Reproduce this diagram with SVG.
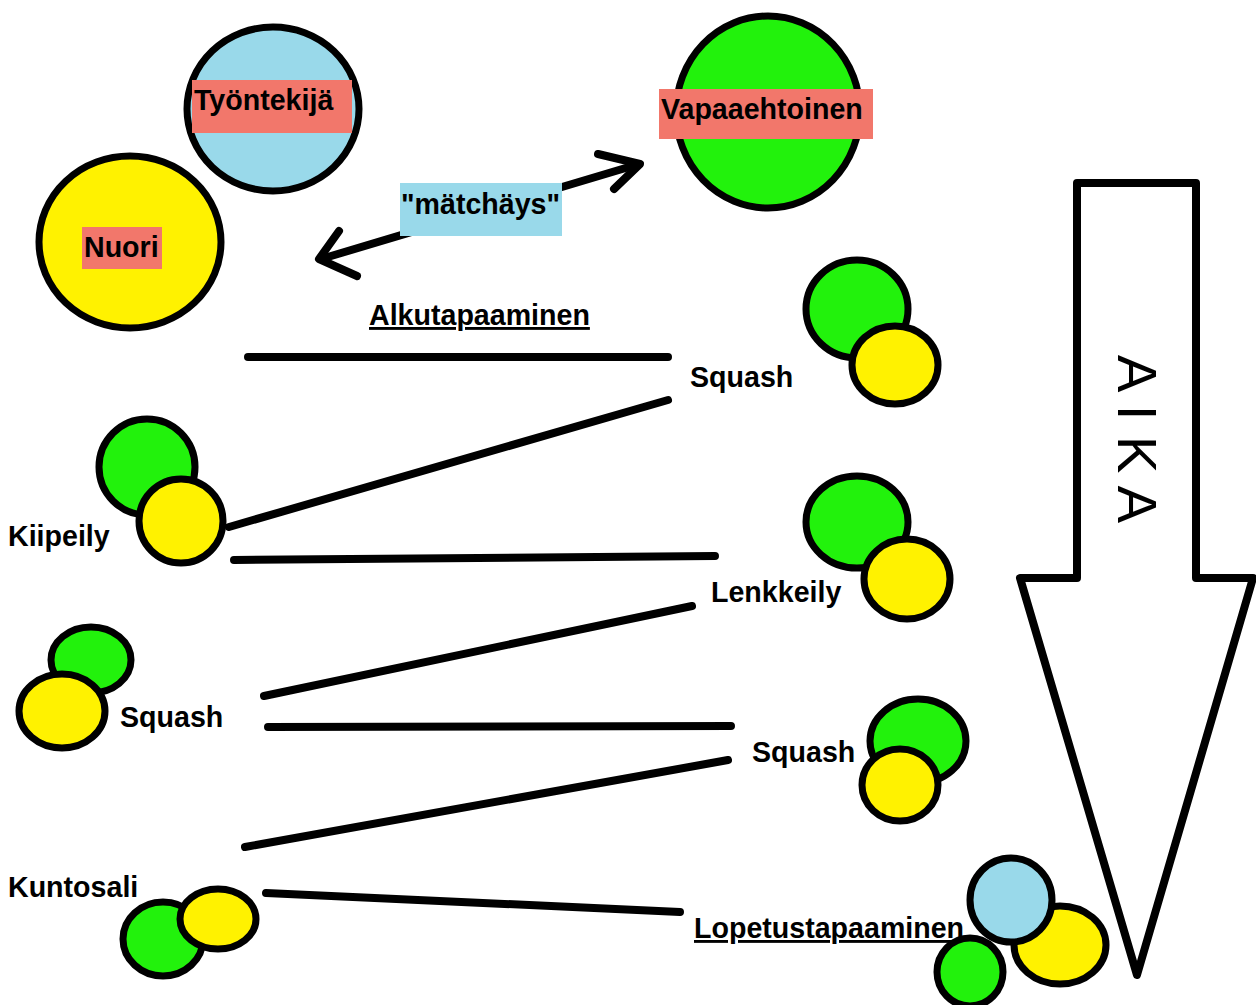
<svg xmlns="http://www.w3.org/2000/svg" width="1256" height="1005" viewBox="0 0 1256 1005">
<style>
.c{stroke:#000;stroke-width:7}
.y{fill:#FFF200}.g{fill:#22F20C}.b{fill:#99D9EA}
.lab{fill:#F2776B}.lb{fill:#99D9EA}
.t{font-family:"Liberation Sans",Arial,sans-serif;font-weight:bold;font-size:28.6px;fill:#000}
.u{text-decoration:underline}
.ln{stroke:#000;stroke-width:8;stroke-linecap:round;fill:none;stroke-linejoin:round}
</style>
<rect width="1256" height="1005" fill="#fff"/>
<g id="connectors">
<line class="ln" x1="248" y1="357" x2="668" y2="357"/>
<line class="ln" x1="229" y1="527" x2="668" y2="400"/>
<line class="ln" x1="234" y1="560" x2="715" y2="556"/>
<line class="ln" x1="264" y1="696" x2="692" y2="606"/>
<line class="ln" x1="268" y1="727" x2="731" y2="726"/>
<line class="ln" x1="245" y1="847" x2="728" y2="760"/>
<line class="ln" x1="266" y1="893" x2="680" y2="912"/>
<line class="ln" x1="321" y1="259" x2="639" y2="164"/>
<polyline class="ln" points="339,231 319,259 357,276"/>
<polyline class="ln" points="598,154 640,164 614,189"/>
</g>
<g id="aika-arrow">
<polygon points="1077,183 1196,183 1196,578 1253,578 1137,975 1020,578 1077,578" fill="#fff" stroke="#000" stroke-width="8" stroke-linejoin="round"/>
<text transform="translate(1118,355) rotate(90)" font-family="'Liberation Sans',Arial,sans-serif" font-size="56" fill="#000" xml:space="preserve">A I K A</text>
</g>
<g id="tyontekija">
<ellipse class="c b" cx="273" cy="109" rx="86" ry="82"/>
<rect class="lab" x="192" y="80" width="160" height="53"/>
<text class="t" x="194" y="110">Työntekijä</text>
</g>
<g id="nuori">
<ellipse class="c y" cx="130" cy="242" rx="91" ry="86"/>
<rect class="lab" x="82" y="227" width="80" height="42"/>
<text class="t" x="84" y="257">Nuori</text>
</g>
<g id="vapaaehtoinen">
<ellipse class="c g" cx="768" cy="112" rx="92" ry="96"/>
<rect class="lab" x="659" y="89" width="214" height="50"/>
<text class="t" x="661" y="119">Vapaaehtoinen</text>
</g>
<g id="matchays">
<rect class="lb" x="400" y="183" width="162" height="53"/>
<text class="t" x="401" y="214">"mätchäys"</text>
</g>
<g id="alkutapaaminen">
<text class="t u" x="369" y="325">Alkutapaaminen</text>
</g>
<g id="squash1">
<ellipse class="c g" cx="857" cy="309" rx="51" ry="49"/>
<ellipse class="c y" cx="895" cy="365" rx="43" ry="39"/>
<text class="t" x="690" y="387">Squash</text>
</g>
<g id="kiipeily">
<ellipse class="c g" cx="147" cy="467" rx="48" ry="48"/>
<ellipse class="c y" cx="181" cy="521" rx="42" ry="42"/>
<text class="t" x="8" y="546">Kiipeily</text>
</g>
<g id="lenkkeily">
<ellipse class="c g" cx="857" cy="522" rx="51" ry="46"/>
<ellipse class="c y" cx="907" cy="579" rx="43" ry="40"/>
<text class="t" x="711" y="602">Lenkkeily</text>
</g>
<g id="squash2">
<ellipse class="c g" cx="91" cy="660" rx="40" ry="33"/>
<ellipse class="c y" cx="62" cy="711" rx="43" ry="37"/>
<text class="t" x="120" y="727">Squash</text>
</g>
<g id="squash3">
<ellipse class="c g" cx="918" cy="741" rx="48" ry="42"/>
<ellipse class="c y" cx="900" cy="785" rx="38" ry="36"/>
<text class="t" x="752" y="762">Squash</text>
</g>
<g id="kuntosali">
<ellipse class="c g" cx="163" cy="939" rx="40" ry="37"/>
<ellipse class="c y" cx="218" cy="919" rx="38" ry="30"/>
<text class="t" x="8" y="897">Kuntosali</text>
</g>
<g id="lopetustapaaminen">
<text class="t u" x="694" y="938">Lopetustapaaminen</text>
<ellipse class="c y" cx="1060" cy="945" rx="46" ry="39"/>
<ellipse class="c b" cx="1011" cy="900" rx="41" ry="42"/>
<ellipse class="c g" cx="970" cy="972" rx="33" ry="34"/>
</g>
</svg>
